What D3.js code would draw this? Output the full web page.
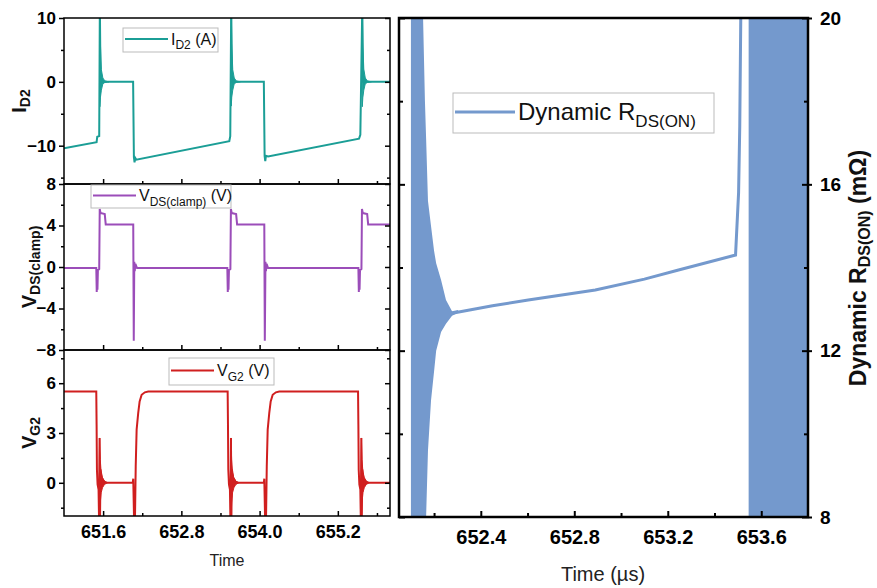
<!DOCTYPE html>
<html>
<head>
<meta charset="utf-8">
<script src="https://cdn.jsdelivr.net/npm/d3@7"></script>
<style>
body { margin: 0; background: #fff; }
text { font-family: "Liberation Sans", Arial, sans-serif; }
</style>
</head>
<body>
<div id="chart"></div>
<script>
// ---- values ----
// left stack: [time (µs), value]
const idLine = [[651.00,-10.4],[651.50,-9.45],[651.51,-8.6],[651.54,-8.5],[651.55,12],[651.56,0],
  [652.06,0],[652.072,-11.8],[652.082,-12.6],[652.092,-11.9],[652.11,-12.2],[653.535,-9.3],[653.55,-8.5],
  [653.565,12],[653.575,0],[654.065,0],[654.077,-11.6],[654.087,-12.4],[654.097,-11.6],[654.13,-11.7],
  [655.525,-8.9],[655.545,-8.3],[655.575,12],[655.585,0],[656.0,0]];
// ringing envelopes: [time, low, high]
const idRings = [
  [[651.55,-3.9,12],[651.558,-2.5,6.1],[651.573,-1.3,1.9],[651.596,-0.3,0.6],[651.627,-0.1,0.15],[651.69,0,0]],
  [[653.565,-3.8,12],[653.573,-2.4,6.0],[653.588,-1.3,1.9],[653.611,-0.3,0.6],[653.642,-0.1,0.15],[653.705,0,0]],
  [[655.575,-3.9,12],[655.583,-2.5,6.1],[655.598,-1.3,2.0],[655.621,-0.3,0.6],[655.652,-0.1,0.15],[655.715,0,0]]
];
const vdsLine = [[651.00,-0.1],[651.495,-0.1],[651.502,-2.4],[651.508,-0.4],[651.513,-2.2],[651.52,-0.3],
  [651.54,-0.2],[651.548,5.6],[651.56,5.2],[651.625,5.1],[651.64,4.1],[652.062,4.1],[652.07,-7.1],
  [652.078,0.5],[652.085,-0.4],[652.095,0.3],[652.12,-0.1],[653.505,-0.1],[653.512,-2.4],[653.518,-0.4],
  [653.523,-2.2],[653.53,-0.3],[653.552,-0.2],[653.56,5.6],[653.572,5.2],[653.64,5.1],[653.655,4.1],
  [654.072,4.1],[654.08,-7.1],[654.09,0.5],[654.097,-0.4],[654.107,0.3],[654.13,-0.1],[655.515,-0.1],
  [655.522,-2.4],[655.528,-0.4],[655.533,-2.2],[655.54,-0.3],[655.562,-0.2],[655.57,5.6],[655.582,5.2],
  [655.65,5.1],[655.665,4.1],[656.0,4.1]];
const vgLine = [[651.00,5.5],[651.495,5.5],[651.50,3.5],[651.505,0.8],[651.515,-0.1],[651.53,-0.4],
  [651.538,-2.3],[651.546,2.7],[651.552,-2.3],[651.56,0.8],[651.58,0.3],[651.62,0.05],[651.66,0],
  [652.055,0],[652.062,0.25],[652.075,-2.3],[652.088,-2.3],[652.1,1.0],[652.114,3.2],[652.138,4.2],
  [652.16,4.9],[652.191,5.3],[652.24,5.45],[652.292,5.5],[653.51,5.5],[653.515,3.5],[653.52,0.8],
  [653.53,-0.1],[653.545,-0.4],[653.553,-2.3],[653.561,2.7],[653.567,-2.3],[653.575,0.8],[653.595,0.3],
  [653.635,0.05],[653.675,0],[654.065,0],[654.072,0.25],[654.085,-2.3],[654.098,-2.3],[654.11,1.0],
  [654.124,3.2],[654.148,4.2],[654.17,4.9],[654.201,5.3],[654.25,5.45],[654.302,5.5],[655.51,5.5],
  [655.515,3.5],[655.52,0.8],[655.53,-0.1],[655.545,-0.4],[655.553,-2.3],[655.561,2.7],[655.567,-2.3],
  [655.575,0.8],[655.595,0.3],[655.635,0.05],[655.675,0],[656.0,0]];
const vgRings = [
  [[651.538,-2.3,-0.3],[651.546,-2.3,2.7],[651.556,-1.2,1.4],[651.57,-0.6,0.6],[651.59,-0.3,0.3],[651.62,-0.1,0.1],[651.665,0,0]],
  [[653.553,-2.3,-0.3],[653.561,-2.3,2.7],[653.571,-1.2,1.4],[653.585,-0.6,0.6],[653.605,-0.3,0.3],[653.635,-0.1,0.1],[653.68,0,0]],
  [[655.553,-2.3,-0.3],[655.561,-2.3,2.7],[655.571,-1.2,1.4],[655.585,-0.6,0.6],[655.605,-0.3,0.3],[655.635,-0.1,0.1],[655.68,0,0]]
];
// right panel: dynamic R_DS(ON) in mΩ
const rdsLine = [[652.277,12.9],[652.45,13.08],[652.603,13.22],[652.89,13.46],[653.1,13.72],[653.246,13.94],
  [653.49,14.3],[653.503,15.8],[653.508,17.4],[653.514,21]];
const rdsBurst = [[652.101,7.5,21],[652.153,7.5,20.0],[652.161,7.5,18.0],[652.166,8.0,17.1],[652.174,9.6,15.6],
  [652.187,10.8,15.0],[652.2,11.5,14.4],[652.209,12.0,14.1],[652.23,12.45,13.7],[652.251,12.65,13.22],
  [652.277,12.84,12.95],[652.303,12.91,12.98]];
const rdsBand = [[653.546,7,21],[653.85,7,21]];

// ticks
const leftXTicks = [651.6, 652.8, 654.0, 655.2];
const leftXMinor = [652.2, 653.4, 654.6, 655.8];
const idTicks = [-10, 0, 10], idMinor = [-15, -5, 5];
const vdsTicks = [-8, -4, 0, 4, 8], vdsMinor = [-6, -2, 2, 6];
const vgTicks = [0, 3, 6], vgMinor = [-1.5, 1.5, 4.5, 7.5];
const rXTicks = [652.4, 652.8, 653.2, 653.6], rXMinor = [652.2, 652.6, 653.0, 653.4];
const rYTicks = [8, 12, 16, 20], rYMinor = [10, 14, 18];

const svg = d3.select("#chart").append("svg")
  .attr("width", 877).attr("height", 588);

function rich(sel, parts, size, subSize, shift) {
  let cur = 0;
  parts.forEach(p => {
    const target = p[1] ? shift : 0;
    sel.append("tspan")
      .attr("dy", target - cur)
      .style("font-size", (p[1] ? subSize : size) + "px")
      .text(p[0]);
    cur = target;
  });
}

function legend(x, y, w, h, color, parts, lineLen, size, subSize, lineW) {
  const g = svg.append("g");
  g.append("rect").attr("x", x).attr("y", y).attr("width", w).attr("height", h)
    .attr("fill", "#fff").attr("stroke", "#bbb").attr("stroke-width", 1);
  g.append("line").attr("x1", x + 2).attr("x2", x + 2 + lineLen)
    .attr("y1", y + h / 2 - 1).attr("y2", y + h / 2 - 1)
    .attr("stroke", color).attr("stroke-width", lineW);
  const t = g.append("text").attr("x", x + lineLen + 5).attr("y", y + h / 2 + size * 0.3)
    .attr("fill", "#111");
  rich(t, parts, size, subSize, size * 0.28);
}

// ---- left stacked panels ----
const xL = d3.scaleLinear().domain([651, 656]).range([64, 390]);
const panels = [
  {top: 18, bottom: 184, dom: [-16, 10], ticks: idTicks, minor: idMinor, color: "#1b9e96",
   line: idLine, rings: idRings, title: [["I", 0], ["D2", 1]], titleX: 26,
   leg: [123, 28, 95, 24], legParts: [["I", 0], ["D2", 1], [" (A)", 0]]},
  {top: 184, bottom: 350, dom: [-8, 8], ticks: vdsTicks, minor: vdsMinor, color: "#9b4db9",
   line: vdsLine, rings: [], title: [["V", 0], ["DS(clamp)", 1]], titleX: 36,
   leg: [91, 185, 140, 23], legParts: [["V", 0], ["DS(clamp)", 1], [" (V)", 0]]},
  {top: 350, bottom: 516, dom: [-2, 8], ticks: vgTicks, minor: vgMinor, color: "#d01f1f",
   line: vgLine, rings: vgRings, title: [["V", 0], ["G2", 1]], titleX: 36,
   leg: [169, 358, 105, 27], legParts: [["V", 0], ["G2", 1], [" (V)", 0]]}
];

panels.forEach((p, i) => {
  const y = d3.scaleLinear().domain(p.dom).range([p.bottom, p.top]);
  const cid = "clipL" + i;
  svg.append("clipPath").attr("id", cid).append("rect")
    .attr("x", xL.range()[0]).attr("y", p.top)
    .attr("width", xL.range()[1] - xL.range()[0]).attr("height", p.bottom - p.top);
  const g = svg.append("g").attr("clip-path", `url(#${cid})`);
  const area = d3.area().x(d => xL(d[0])).y0(d => y(d[1])).y1(d => y(d[2]));
  p.rings.forEach(r => {
    g.append("path").datum(r).attr("d", area).attr("fill", p.color).attr("stroke", p.color).attr("stroke-width", 1);
  });
  g.append("path").datum(p.line)
    .attr("d", d3.line().x(d => xL(d[0])).y(d => y(d[1])))
    .attr("fill", "none").attr("stroke", p.color).attr("stroke-width", 2);

  // axes
  const left = svg.append("g").attr("transform", `translate(${xL.range()[0]},0)`);
  left.call(d3.axisLeft(y).tickValues(p.ticks).tickSize(5).tickPadding(3).tickFormat(d3.format("d")));
  left.append("g").call(d3.axisLeft(y).tickValues(p.minor).tickSize(3).tickFormat(""));
  const right = svg.append("g").attr("transform", `translate(${xL.range()[1]},0)`);
  right.call(d3.axisRight(y).tickValues(p.ticks).tickSize(-5).tickFormat(""));
  right.append("g").call(d3.axisRight(y).tickValues(p.minor).tickSize(-3).tickFormat(""));
  const bot = svg.append("g").attr("transform", `translate(0,${p.bottom})`);
  bot.call(d3.axisBottom(xL).tickValues(leftXTicks).tickSize(-5).tickPadding(9)
    .tickFormat(i === 2 ? d3.format(".1f") : ""));
  bot.append("g").call(d3.axisBottom(xL).tickValues(leftXMinor).tickSize(-3).tickFormat(""));
  [left, right, bot].forEach(a => {
    a.selectAll(".domain").remove();
    a.selectAll("line").attr("stroke", "#000").attr("stroke-width", 1.5);
    a.selectAll("text").attr("fill", "#000").style("font-weight", "bold");
  });
  left.selectAll("text").style("font-size", "17px");
  bot.selectAll("text").style("font-size", "18px");

  svg.append("rect").attr("x", xL.range()[0]).attr("y", p.top)
    .attr("width", xL.range()[1] - xL.range()[0]).attr("height", p.bottom - p.top)
    .attr("fill", "none").attr("stroke", "#000").attr("stroke-width", 1.5);

  const tt = svg.append("text")
    .attr("transform", `translate(${p.titleX},${(p.top + p.bottom) / 2}) rotate(-90)`)
    .attr("text-anchor", "middle").style("font-weight", "bold").attr("fill", "#111");
  rich(tt, p.title, 20, 14, 4);

  legend(p.leg[0], p.leg[1], p.leg[2], p.leg[3], p.color, p.legParts, 43, 16, 12, 2);
});

svg.append("text").attr("x", 227).attr("y", 566).attr("text-anchor", "middle")
  .style("font-size", "16px").attr("fill", "#222").text("Time");

// ---- right panel ----
const xR = d3.scaleLinear().domain([652.05, 653.8]).range([399, 808]);
const yR = d3.scaleLinear().domain([8, 20]).range([517, 18]);
const blue = "#7499cd";

svg.append("clipPath").attr("id", "clipR").append("rect")
  .attr("x", 399).attr("y", 18).attr("width", 409).attr("height", 499);
const gR = svg.append("g").attr("clip-path", "url(#clipR)");
const areaR = d3.area().x(d => xR(d[0])).y0(d => yR(d[1])).y1(d => yR(d[2]));
gR.append("path").datum(rdsBurst).attr("d", areaR).attr("fill", blue);
gR.append("path").datum(rdsBand).attr("d", areaR).attr("fill", blue);
gR.append("path").datum(rdsLine)
  .attr("d", d3.line().x(d => xR(d[0])).y(d => yR(d[1])))
  .attr("fill", "none").attr("stroke", blue).attr("stroke-width", 3);

const rLeft = svg.append("g").attr("transform", "translate(399,0)");
rLeft.call(d3.axisLeft(yR).tickValues(rYTicks).tickSize(-6).tickFormat(""));
rLeft.append("g").call(d3.axisLeft(yR).tickValues(rYMinor).tickSize(-4).tickFormat(""));
const rRight = svg.append("g").attr("transform", "translate(808,0)");
rRight.call(d3.axisRight(yR).tickValues(rYTicks).tickSize(4).tickPadding(8).tickFormat(d3.format("d")));
rRight.append("g").call(d3.axisRight(yR).tickValues(rYTicks).tickSize(-6).tickFormat(""));
rRight.append("g").call(d3.axisRight(yR).tickValues(rYMinor).tickSize(-4).tickFormat(""));
const rBot = svg.append("g").attr("transform", "translate(0,517)");
rBot.call(d3.axisBottom(xR).tickValues(rXTicks).tickSize(-6).tickPadding(13).tickFormat(d3.format(".1f")));
rBot.append("g").call(d3.axisBottom(xR).tickValues(rXMinor).tickSize(-4).tickFormat(""));
[rLeft, rRight, rBot].forEach(a => {
  a.selectAll(".domain").remove();
  a.selectAll("line").attr("stroke", "#000").attr("stroke-width", 2);
  a.selectAll("text").attr("fill", "#000").style("font-weight", "bold").style("font-size", "19px");
});
rBot.selectAll("text").style("font-size", "20px");

svg.append("rect").attr("x", 399).attr("y", 18).attr("width", 409).attr("height", 499)
  .attr("fill", "none").attr("stroke", "#000").attr("stroke-width", 2.5);

svg.append("text").attr("x", 603).attr("y", 581).attr("text-anchor", "middle")
  .style("font-size", "20px").attr("fill", "#222").text("Time (µs)");

const rt = svg.append("text")
  .attr("transform", "translate(866,268) rotate(-90)")
  .attr("text-anchor", "middle").style("font-weight", "bold").attr("fill", "#111");
rich(rt, [["Dynamic R", 0], ["DS(ON)", 1], [" (mΩ)", 0]], 23, 16, 4);

legend(453, 93, 261, 40, blue, [["Dynamic R", 0], ["DS(ON)", 1]], 60, 24, 17, 3);
</script>
</body>
</html>
